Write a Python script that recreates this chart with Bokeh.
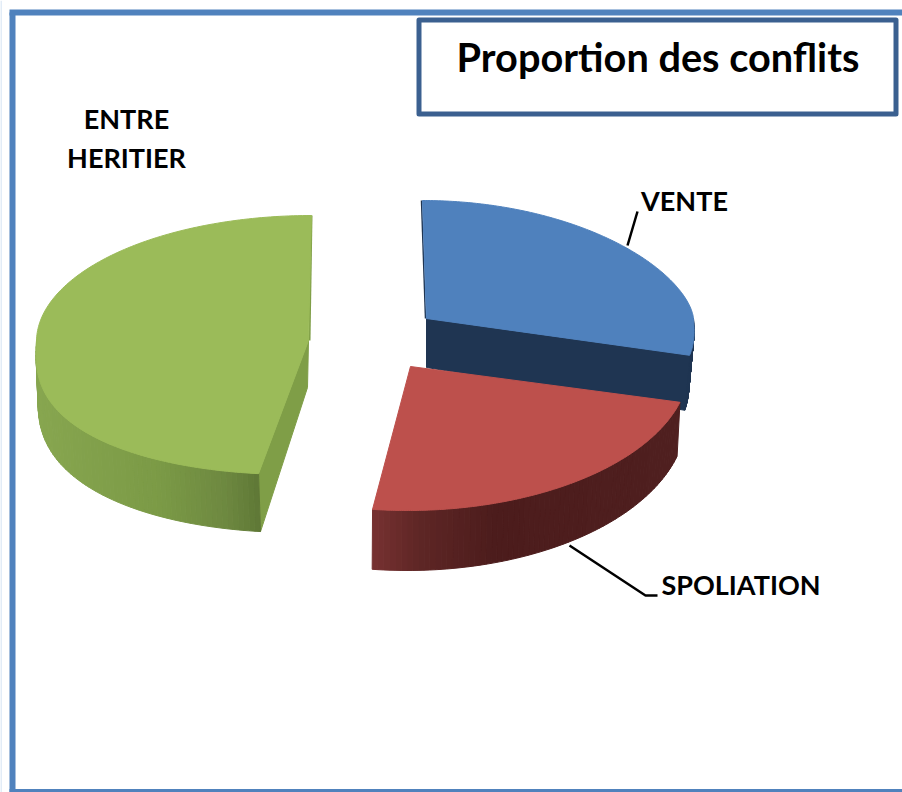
import numpy as np
from bokeh.plotting import figure
from bokeh.models import ColumnDataSource
from bokeh.embed import file_html
from bokeh.resources import INLINE
from bokeh.core.properties import value

# ---- data -----------------------------------------------------------------
categories = ["VENTE", "SPOLIATION", "ENTRE HERITIER"]
shares = [29.0, 23.0, 48.0]

# ---- colours --------------------------------------------------------------
top_colors = ["#4f81bd", "#bd504c", "#9bbb59"]
cut_colors = ["#1f3552", None, "#7f9e47"]
wall_fracs = [[0, 1], [0, 0.15, 0.4, 1], [0, 0.55, 0.85, 1]]
wall_stops = [["#1f3552", "#1f3552"],
              ["#763131", "#5e2625", "#4c1c1c", "#4f1f1f"],
              ["#87a64f", "#7b9a46", "#6d8840", "#5f7836"]]

# ---- 3-D look of each slice (screen px) ------------------------------------
apex_x = [426, 410, 308]
apex_y = [318, 366, 340]
radius_x = [267, 279, 272]
radius_back = [118, 120, 125]
radius_front = [112, 144, 134]
power_back = [1.2, 1.0, 1.0]
power_front = [0.8, 1.0, 0.8]
shear_back = [-4, 0, 3]
shear_front = [18, -3, -16]
depth_base = [49, 52, 48]
depth_front = [24, 8, 10]
depth_dx = [-5, -3, 2]
depth_taper = [1, 1, 0]

W, H = 902, 792
p = figure(width=W, height=H, x_range=(0, W), y_range=(H, 0),
           output_backend="svg", toolbar_location=None, min_border=0)
p.axis.visible = False
p.grid.visible = False
p.outline_line_color = None
p.background_fill_color = "white"
p.border_fill_color = "white"


def hex2rgb(c):
    return np.array([int(c[i:i + 2], 16) for i in (1, 3, 5)], float)


def mix(fr, stops, fracs):
    rgb = [np.interp(fr, fracs, [hex2rgb(s)[k] for s in stops]) for k in range(3)]
    return "#%02x%02x%02x" % tuple(int(round(v)) for v in rgb)


def pt(i, th, bottom=False):
    s, c = np.sin(th), np.cos(th)
    yy = np.where(c >= 0, radius_back[i] * np.abs(c) ** power_back[i],
                  -radius_front[i] * np.abs(c) ** power_front[i])
    sh = np.where(c >= 0, shear_back[i] * np.abs(c), shear_front[i] * np.abs(c))
    x = apex_x[i] + radius_x[i] * s + sh
    y = apex_y[i] - yy
    if bottom:
        x = x + depth_dx[i] * np.abs(s) ** depth_taper[i]
        y = y + depth_base[i] + depth_front[i] * np.where(c < 0, -c, 0)
    return x, y


# slice angles from the values, clockwise from 12 o'clock
edges = np.radians(np.concatenate([[0], np.cumsum(shares)]) * 3.6)

for i in range(3):
    a0, a1 = edges[i], edges[i + 1]
    if i == 0:
        x0, y0 = pt(i, np.array(a0))
        p.line([x0 - 1, apex_x[i] - 1], [y0, apex_y[i]], line_color="#1f3552", line_width=1.5)
    if i == 2:
        x1, y1 = pt(i, np.array(a1))
        p.line([x1, apex_x[i] + 1], [y1, apex_y[i]], line_color="#7f9e47", line_width=2)

    if cut_colors[i]:
        th = a1 if i == 0 else a0
        xt, yt = pt(i, np.array(th))
        xb, yb = pt(i, np.array(th), bottom=True)
        cx = [apex_x[i], float(xt), float(xb), apex_x[i] - (1 if i == 2 else 0)]
        cy = [apex_y[i], float(yt), float(yb), apex_y[i] + depth_base[i] - (1 if i == 2 else 0)]
        p.patch(cx, cy, fill_color=cut_colors[i], line_color=cut_colors[i], line_width=1)

    w0 = max(a0, np.pi / 2)
    w1 = min(a1, 3 * np.pi / 2)
    t = np.linspace(w0, w1, 71)
    xt, yt = pt(i, t)
    xb, yb = pt(i, t, bottom=True)
    xmin, xmax = xt.min(), xt.max()
    xs, ys, cols = [], [], []
    for k in range(len(t) - 1):
        xs.append([xt[k], xt[k + 1], xb[k + 1], xb[k]])
        ys.append([yt[k], yt[k + 1], yb[k + 1], yb[k]])
        fr = ((xt[k] + xt[k + 1]) / 2 - xmin) / (xmax - xmin)
        cols.append(mix(fr, wall_stops[i], wall_fracs[i]))
    src = ColumnDataSource(dict(xs=xs, ys=ys, c=cols))
    p.patches("xs", "ys", source=src, fill_color="c", line_color="c", line_width=1)

    t = np.linspace(a0, a1, 181)
    xt, yt = pt(i, t)
    p.patch([apex_x[i], *xt], [apex_y[i], *yt], fill_color=top_colors[i],
            line_color=top_colors[i], line_width=1)

# leader lines
p.line([637, 627], [211, 245], line_color="black", line_width=2.5)
p.line([569, 645, 657], [545, 595, 595], line_color="black", line_width=2.5)

# labels
font = value("Lato")
p.text([684], [200], text=[categories[0]], text_font=font, text_font_style="bold",
       text_font_size="27px", text_align="center", text_baseline="alphabetic", text_color="black")
p.text([740.5], [584], text=[categories[1]], text_font=font, text_font_style="bold",
       text_font_size="27px", text_align="center", text_baseline="alphabetic", text_color="black")
a, b = categories[2].split(" ")
p.text([126, 126], [118, 157], text=[a, b], text_font=font, text_font_style="bold",
       text_font_size="27px", text_align="center", text_baseline="alphabetic", text_color="black")

# outer frame
p.line([0.5, 0.5], [0, 792], line_color="#c6d9f0", line_width=1)
p.line([12, 12], [12, 792], line_color="#5082bd", line_width=6)
p.line([9, 902], [12, 12], line_color="#5082bd", line_width=6)
p.line([9, 902], [790.5, 790.5], line_color="#5082bd", line_width=4)

# title box
bx = [418.5, 895.5, 895.5, 418.5, 418.5]
by = [19.5, 19.5, 113.5, 113.5, 19.5]
p.patch(bx, by, fill_color="white", line_color="#3b6090", line_width=5, line_join="round")
p.text([657.5], [56], text=["Proportion des conflits"], text_font=font, text_font_style="bold",
       text_font_size="39.7px", text_align="center", text_baseline="alphabetic", text_color="black")

open("out.html", "w").write(file_html(p, INLINE))
